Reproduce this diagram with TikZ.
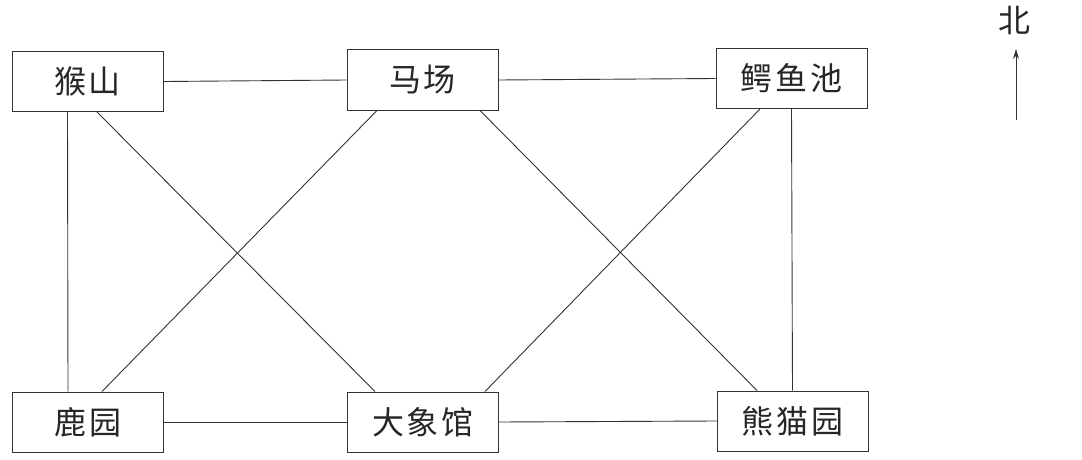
\documentclass[tikz,border=0pt]{standalone}
\usepackage{fontspec}
\newfontfamily\cjk[LetterSpace=8]{Noto Sans CJK SC}
\newfontfamily\cjkn{Noto Sans CJK SC}
\usetikzlibrary{arrows.meta}
\tikzset{
  place/.style={draw=black!80, line width=1pt, minimum width=151pt, minimum height=60pt, inner sep=0pt,
    font=\cjk\fontsize{32}{38}\selectfont, text=black!85},
  link/.style={draw=black!80, line width=0.9pt}
}
\begin{document}
\begin{tikzpicture}[x=1pt,y=-1pt]
\useasboundingbox (0,0) rectangle (1082,460);
\node[place] (hs) at (87.5,81.5) {猴山};
\node[place] (mc) at (422.5,80) {马场};
\node[place] (ey) at (791.5,78.5) {鳄鱼池};
\node[place] (ly) at (88,422) {鹿园};
\node[place] (dx) at (423,422) {大象馆};
\node[place] (xm) at (792.5,421) {熊猫园};
\draw[link] (hs.east) -- (mc.west);
\draw[link] (mc.east) -- (ey.west);
\draw[link] (ly.east) -- (dx.west);
\draw[link] (dx.east) -- (xm.west);
\draw[link] ([xshift=-20pt]hs.south) -- ([xshift=-20pt]ly.north);
\draw[link] (ey.south) -- (xm.north);
\draw[link] ([xshift=9.5pt]hs.south) -- ([xshift=-48pt]dx.north);
\draw[link] ([xshift=-45.5pt]mc.south) -- ([xshift=14pt]ly.north);
\draw[link] ([xshift=57.5pt]mc.south) -- ([xshift=-35.5pt]xm.north);
\draw[link] ([xshift=-31.5pt]ey.south) -- ([xshift=62pt]dx.north);
\node[font=\cjkn\fontsize{32}{38}\selectfont, text=black!85, inner sep=0pt] (bei) at (1014,20) {北};
\coordinate (nb) at (1016,120);
\coordinate (nt) at (1016,49);
\draw[link, -{Stealth[length=10pt,width=6pt]}] (nb) -- (nt);
\end{tikzpicture}
\end{document}
